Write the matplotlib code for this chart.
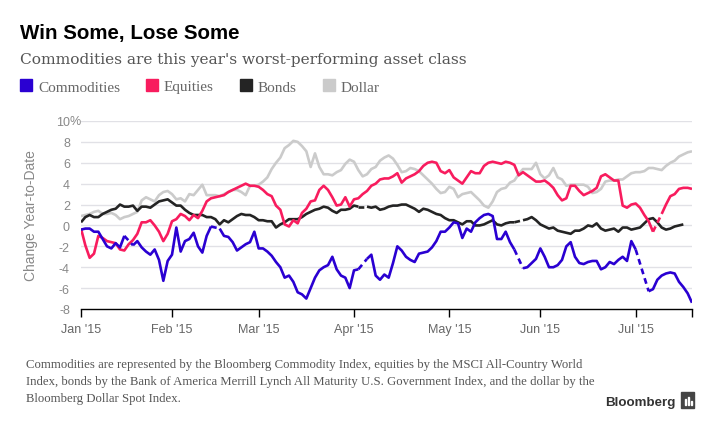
import numpy as np
import matplotlib.pyplot as plt
from matplotlib.patches import Rectangle

nan = np.nan

# one value per weekday, Jan 2 2015 .. Jul 20 2015 (nan = no print that day)
month_labels = ["Jan '15", "Feb '15", "Mar '15", "Apr '15", "May '15", "Jun '15", "Jul '15"]
month_starts = [0, 21, 41, 63, 85, 106, 128]

commodities = [
    -0.4, -0.3, -0.3, -0.6, -0.6, -1.3, -2.0, -2.2, -1.7, -2.1, -1.0, nan, -1.9, -1.5, -2.1, -2.5,
    -2.8, -2.3, -3.3, -5.3, -3.4, -2.8, -0.2, -2.5, -1.5, -1.3, -0.7, -2.0, -2.6, -1.0, -0.1, nan,
    -0.3, -1.0, -1.1, -1.6, -2.4, -2.1, -1.8, -1.6, -0.6, -2.2, -2.2, -2.5, -2.9, -3.5, -4.0, -5.0,
    -4.8, -5.4, -6.4, -6.6, -7.0, -6.0, -5.0, -4.3, -4.0, -3.8, -3.0, -4.2, -4.8, -5.0, -6.0, -4.3,
    -4.2, nan, -3.2, -2.8, -4.8, -5.2, -4.7, -5.0, -3.6, -2.0, -2.4, -3.0, -3.3, -3.5, -2.7, -2.6,
    -2.5, -2.1, -1.5, -0.6, -0.6, -0.2, 0.3, 0.2, -1.2, -0.3, -0.6, 0.3, 0.7, 1.0, 1.1, 0.9,
    -1.3, -1.3, -0.6, -1.6, -2.3, nan, -4.1, -4.0, -3.6, -3.2, -2.2, -3.0, -4.0, -4.0, -3.8, -3.3,
    -2.0, -1.6, -3.0, -3.6, -3.7, -3.5, -3.4, -3.4, -4.2, -4.0, -3.5, -3.7, -3.3, -3.0, -3.4, -1.5,
    -2.3, nan, nan, -6.3, -6.1, -5.2, -4.8, -4.6, -4.5, -4.6, -5.4, -5.9, -6.5, -7.4,
]
equities = [
    -0.3, -1.9, -3.1, -2.7, -1.0, -1.2, -1.5, -1.6, -1.7, -2.3, -2.4, -1.8, -1.4, -0.8, 0.3, 0.3,
    0.5, 0.0, -0.6, -1.5, -0.8, 0.4, 0.6, 1.1, 0.9, 0.5, 1.0, 0.7, 1.4, 2.3, 2.6, 2.7,
    2.8, 2.9, 3.2, 3.4, 3.6, 3.8, 4.0, 3.8, 3.8, 3.7, 3.4, 3.0, 2.8, 1.9, 1.5, 0.1,
    -0.1, 0.5, 0.2, 1.2, 1.6, 2.3, 2.4, 3.4, 3.8, 3.4, 2.7, 1.9, 2.0, 2.7, 1.8, 2.5,
    2.6, 3.0, 3.3, 3.8, 4.0, 4.4, 4.5, 4.5, 4.7, 5.0, 4.1, 4.5, 4.7, 4.9, 5.2, 5.7,
    6.0, 6.1, 6.0, 5.2, 5.0, 5.3, 4.6, 4.3, 4.0, 4.6, 5.2, 5.0, 5.0, 5.7, 6.0, 6.1,
    6.0, 5.9, 6.1, 6.0, 5.8, 4.8, 5.1, 4.8, 4.5, 4.2, 4.2, 4.3, 4.0, 3.6, 2.9, 2.4,
    2.6, 3.8, 3.8, 3.3, 2.9, 3.1, 3.3, 3.6, 4.7, 4.9, 4.6, 4.3, 4.3, 1.9, 1.7, 2.0,
    2.1, 1.7, 1.0, 0.4, -0.6, nan, 1.1, 2.0, 2.8, 3.0, 3.5, 3.6, 3.6, 3.5,
]
bonds = [
    0.3, 0.8, 1.0, 0.8, 0.8, 1.1, 1.3, 1.5, 1.6, 2.0, 1.8, 1.8, 1.9, 1.4, 1.8, 1.8,
    1.7, 2.0, 2.3, 2.4, 2.5, 2.2, 1.9, 1.9, 1.5, 1.2, 1.0, 1.0, 1.0, 0.8, 0.8, 0.6,
    0.1, 0.5, 0.3, 0.6, 0.9, 1.1, 1.0, 1.0, 0.8, 0.5, 0.5, 0.4, 0.4, -0.2, 0.1, 0.3,
    0.6, 0.6, 0.6, 0.8, 1.1, 1.3, 1.5, 1.6, 1.8, 1.7, 1.4, 1.2, 1.5, 1.5, 1.6, 1.9,
    1.8, nan, 1.8, 1.7, 1.8, 1.5, 1.6, 1.8, 1.9, 1.9, 2.0, 2.0, 1.8, 1.6, 1.3, 1.6,
    1.5, 1.3, 1.1, 1.0, 0.7, 0.5, 0.5, 0.3, 0.1, 0.4, 0.4, 0.0, 0.0, 0.1, 0.3, 0.5,
    0.1, 0.0, 0.2, 0.3, 0.3, nan, 0.5, 0.6, 0.8, 0.5, 0.1, -0.1, -0.3, -0.2, -0.5, -0.6,
    -0.7, -0.8, -0.5, -0.5, -0.3, 0.0, -0.1, 0.2, -0.3, -0.5, -0.4, -0.3, -0.6, -0.2, -0.2, -0.4,
    -0.3, -0.2, 0.2, 0.6, 0.7, 0.3, -0.2, -0.4, -0.3, -0.1, 0.0, 0.1, nan, nan,
]
dollar = [
    0.9, 1.0, 1.1, 1.3, 1.4, 1.1, 1.1, 1.2, 1.0, 0.6, 0.8, 0.9, 1.1, 1.3, 2.4, 2.7,
    2.5, 2.3, 2.9, 3.2, 3.3, 3.0, 2.5, 2.6, 2.3, 3.0, 2.9, 3.4, 3.9, 2.9, 2.9, 2.9,
    2.8, 3.0, 3.2, 3.4, 3.4, 3.2, 2.9, 3.8, 3.8, 3.9, 4.2, 4.6, 5.4, 6.0, 6.5, 7.4,
    7.7, 8.1, 8.0, 7.6, 7.1, 5.6, 6.9, 5.6, 4.9, 4.9, 4.8, 5.1, 5.3, 5.9, 6.3, 6.1,
    5.3, 4.7, 4.9, 5.4, 5.6, 6.2, 6.5, 6.7, 6.4, 5.8, 5.1, 5.2, 5.5, 5.4, 5.2, 4.8,
    4.4, 4.0, 3.5, 3.1, 3.2, 3.7, 3.5, 2.7, 3.0, 3.1, 3.2, 2.8, 2.4, 1.9, 1.7, 2.3,
    3.2, 3.5, 3.6, 4.1, 4.3, 4.9, 5.4, 5.4, 5.4, 6.0, 4.9, 4.5, 4.8, 5.5, 4.6, 4.4,
    3.8, 3.9, 3.9, 3.9, 3.9, 3.7, 3.1, 3.2, 3.5, 4.2, 4.3, 4.3, 4.4, 4.4, 4.7, 5.0,
    5.1, 5.1, 5.2, 5.5, 5.5, 5.4, 5.3, 5.7, 6.0, 6.2, 6.6, 6.8, 7.0, 7.1,
]

series_names = ['Commodities', 'Equities', 'Bonds', 'Dollar']
series_colors = ['#2a00d2', '#f81c5e', '#242424', '#cbcbcb']

W, H = 720, 435
fig = plt.figure(figsize=(W / 100, H / 100), dpi=100)


def fx(px):
    return px / W


def fy(py):
    return 1 - py / H


ax = fig.add_axes([fx(81), fy(310), fx(692) - fx(81), fy(122) - fy(310)])


def draw(values, color, z):
    y = np.array(values, dtype=float)
    x = np.arange(len(y))
    ax.plot(x, y, color=color, lw=1.9, zorder=z, solid_capstyle='butt')
    good = np.where(~np.isnan(y))[0]
    # missing days are bridged with a dashed segment, like the original
    for a, b in zip(good[:-1], good[1:]):
        if b - a > 1:
            ax.plot([a, b], [y[a], y[b]], color=color, lw=1.9, zorder=z,
                    linestyle=(0, (2.2, 1.6)))


draw(dollar, series_colors[3], 3)
draw(bonds, series_colors[2], 4)
draw(equities, series_colors[1], 5)
draw(commodities, series_colors[0], 6)

for v in range(-6, 11, 2):
    ax.axhline(v, color='#e1e1e6', lw=1, zorder=1)

ax.set_xlim(0, len(commodities) - 1)
ax.set_ylim(-8, 10)
for s in ['top', 'right', 'left']:
    ax.spines[s].set_visible(False)
ax.spines['bottom'].set_color('black')
ax.spines['bottom'].set_linewidth(1)

ax.set_xticks(month_starts + [len(commodities) - 1])
ax.set_xticklabels(month_labels + [''])
ax.tick_params(axis='x', direction='out', length=6, width=1, color='black',
               labelsize=9, labelcolor='#666666', pad=4)
for lab in ax.get_xticklabels():
    lab.set_family('Liberation Sans')

yt = list(range(-8, 11, 2))
ax.set_yticks(yt)
ax.set_yticklabels([str(v) for v in yt])
ax.tick_params(axis='y', length=0, labelsize=9, labelcolor='#888888', pad=8)
for lab in ax.get_yticklabels():
    lab.set_family('Liberation Sans')
ax.annotate('%', xy=(0, 10), xycoords=('axes fraction', 'data'), xytext=(-8.2, 0),
            textcoords='offset points', ha='left', va='center', fontsize=9,
            color='#888888', family='Liberation Sans')

fig.text(fx(31), fy(216), 'Change Year-to-Date', rotation=90, ha='center', va='center',
         fontsize=10, color='#888888', family='Liberation Sans')

# header
fig.text(fx(20), fy(39.5), 'Win Some, Lose Some', fontsize=14.8, weight='bold',
         family='Liberation Sans', color='black', va='baseline')
fig.text(fx(20), fy(64), "Commodities are this year's worst-performing asset class",
         fontsize=11.1, family='DejaVu Serif', color='#555555', va='baseline')

legend_x = [20, 146, 240, 323]
for name, color, lx in zip(series_names, series_colors, legend_x):
    fig.patches.append(Rectangle((fx(lx), fy(92)), fx(12), fy(80) - fy(92),
                                 transform=fig.transFigure, color=color))
    fig.text(fx(lx + 18), fy(91.5), name, fontsize=11, family='Liberation Serif',
             color='#666666', va='baseline')

# footnote
notes = [
    'Commodities are represented by the Bloomberg Commodity Index, equities by the MSCI All-Country World',
    'Index, bonds by the Bank of America Merrill Lynch All Maturity U.S. Government Index, and the dollar by the',
    'Bloomberg Dollar Spot Index.',
]
for k, line in enumerate(notes):
    fig.text(fx(26), fy(368 + 17 * k), line, fontsize=9.15, family='Liberation Serif',
             color='#555555', va='baseline')

fig.text(fx(605), fy(406), 'Bloomberg', fontsize=9.6, weight='bold',
         family='Liberation Sans', color='#333333', va='baseline')
fig.patches.append(Rectangle((fx(681), fy(409)), fx(13), fy(393) - fy(409),
                             transform=fig.transFigure, color='#444444'))
for bx, bh in zip([684.5, 687.5, 690.5], [6, 8, 4]):
    fig.patches.append(Rectangle((fx(bx), fy(406)), fx(1.5), fy(406 - bh) - fy(406),
                                 transform=fig.transFigure, color='white'))

fig.savefig('out.png', dpi=100)
